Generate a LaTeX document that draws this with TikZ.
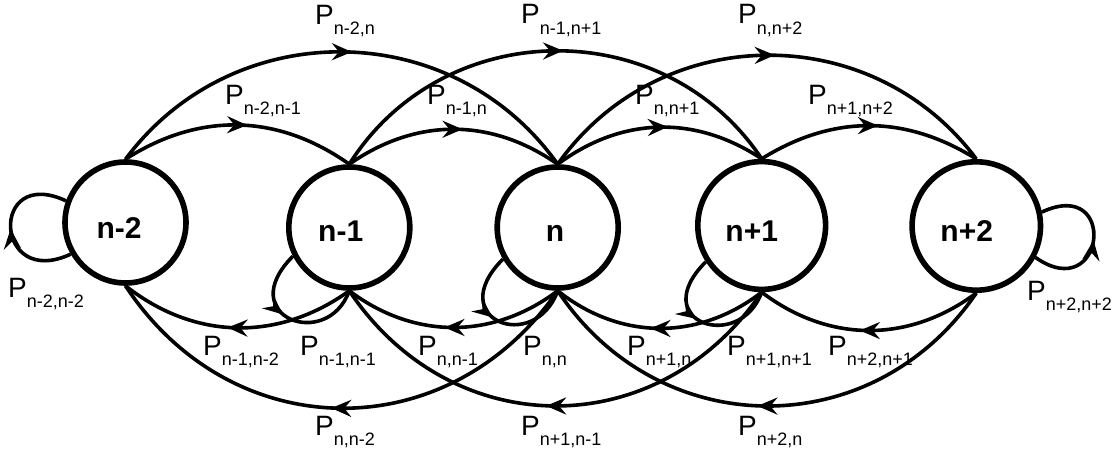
\documentclass[tikz,border=0pt]{standalone}
\usepackage{fontspec}
\setmainfont{Liberation Sans}
\usetikzlibrary{arrows.meta,decorations.markings}
\newcommand\Plab[1]{P\raisebox{-10pt}{\fontsize{18}{18}\selectfont #1}}
\begin{document}
\begin{tikzpicture}[x=1pt,y=1pt,
  state/.style={circle,draw,line width=5.6pt,inner sep=0pt,fill=white},
  statetext/.style={anchor=base,inner sep=0pt,font=\fontsize{30}{30}\selectfont\bfseries},
  plabel/.style={anchor=base west,inner sep=0pt,font=\fontsize{28}{28}\selectfont},
  trans/.style={line width=3.6pt,postaction={decorate},
    decoration={markings,mark=at position 0.5 with {\arrow[xshift=9pt]{Stealth[length=20pt 0 0,width=17pt 0 0,inset=7pt 0]}}}},
  selfloop/.style={line width=3.6pt,postaction={decorate},
    decoration={markings,mark=at position #1 with {\arrow{Stealth[length=20pt 0 0,width=17pt 0 0,inset=7pt 0]}}}},
  selfloop/.default=0.5]
\useasboundingbox (0,0) rectangle (1119,-452);

% states
\node[state,minimum size=121pt] (a) at (125.5,-222.5) {};
\node[state,minimum size=121pt] (b) at (349.3,-227.5) {};
\node[state,minimum size=121pt] (c) at (557.7,-227.5) {};
\node[state,minimum size=127.8pt] (d) at (761.7,-225.5) {};
\node[state,minimum size=128.4pt] (e) at (976.3,-226) {};

\node[statetext] (ta) at (119,-238.3) {n-2};
\node[statetext] (tb) at (340.7,-241.7) {n-1};
\node[statetext] (tc) at (555,-241.7) {n};
\node[statetext] (td) at (751.7,-241.7) {n+1};
\node[statetext] (te) at (966.7,-241.7) {n+2};

% top short
\draw[trans] (a.north) to[bend left=34] (b.north);
\draw[trans] (b.north) to[bend left=35] (c.north);
\draw[trans] (c.north) to[bend left=35] (d.north);
\draw[trans] (d.north) to[bend left=32] (e.north);
% top long
\draw[trans] (a.north) to[bend left=54,looseness=1.07] (c.north);
\draw[trans] (b.north) to[bend left=57,looseness=1.09] (d.north);
\draw[trans] (c.north) to[bend left=54,looseness=1.07] (e.north);
% bottom short
\draw[trans] (b.south) to[bend left=37] (a.south);
\draw[trans] (c.south) to[bend left=37] (b.south);
\draw[trans] (d.south) to[bend left=38] (c.south);
\draw[trans] (e.south) to[bend left=37] (d.south);
% bottom long
\draw[trans] (c.south) to[bend left=56,looseness=1.14] (a.south);
\draw[trans] (d.south) to[bend left=56,looseness=1.14] (b.south);
\draw[trans] (e.south) to[bend left=56,looseness=1.12] (c.south);

% self loops
\draw[selfloop] (a.210) .. controls +(205:85) and +(155:85) .. (a.160);
\draw[selfloop] (e.-28) .. controls +(-35:85) and +(25:85) .. (e.12);
\draw[selfloop=0.45] (b.207) .. controls +(225:85) and +(250:65) .. (b.south);
\draw[selfloop=0.45] (c.210) .. controls +(225:85) and +(250:68) .. (c.south);
\draw[selfloop=0.45] (d.213) .. controls +(225:85) and +(250:65) .. (d.south);

% labels
\node[plabel] (l1) at (315,-25) {\Plab{n-2,n}};
\node[plabel] (l2) at (521,-24) {\Plab{n-1,n+1}};
\node[plabel] (l3) at (738,-24) {\Plab{n,n+2}};
\node[plabel] (l4) at (225,-104) {\Plab{n-2,n-1}};
\node[plabel] (l5) at (427,-104) {\Plab{n-1,n}};
\node[plabel] (l6) at (635,-104) {\Plab{n,n+1}};
\node[plabel] (l7) at (808,-104) {\Plab{n+1,n+2}};
\node[plabel] (l8) at (203,-355) {\Plab{n-1,n-2}};
\node[plabel] (l9) at (300,-355) {\Plab{n-1,n-1}};
\node[plabel] (l10) at (418,-355) {\Plab{n,n-1}};
\node[plabel] (l11) at (523,-355) {\Plab{n,n}};
\node[plabel] (l12) at (627,-355) {\Plab{n+1,n}};
\node[plabel] (l13) at (727,-355) {\Plab{n+1,n+1}};
\node[plabel] (l14) at (828,-355) {\Plab{n+2,n+1}};
\node[plabel] (l15) at (315,-435) {\Plab{n,n-2}};
\node[plabel] (l16) at (521,-435) {\Plab{n+1,n-1}};
\node[plabel] (l17) at (738,-435) {\Plab{n+2,n}};
\node[plabel] (l18) at (8,-297) {\Plab{n-2,n-2}};
\node[plabel] (l19) at (1027,-300) {\Plab{n+2,n+2}};
\end{tikzpicture}
\end{document}
